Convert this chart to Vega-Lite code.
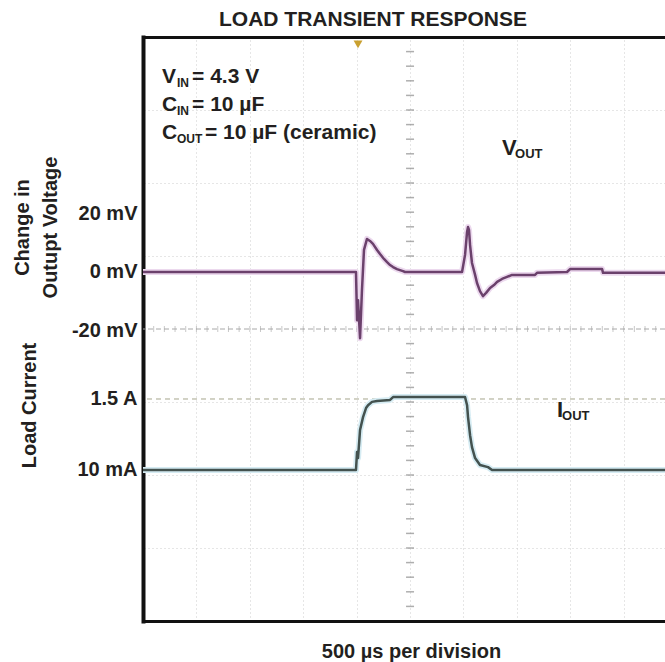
{
  "$schema": "https://vega.github.io/schema/vega-lite/v6.json",
  "width": 522,
  "height": 584,
  "autosize": {"type": "none"},
  "padding": {"left": 143, "top": 37, "right": 0, "bottom": 41},
  "background": "white",
  "config": {"font": "Liberation Sans", "view": {"stroke": null}},
  "title": {"text": "LOAD TRANSIENT RESPONSE", "fontSize": 21, "fontWeight": "bold", "font": "Liberation Sans", "color": "#231f20", "anchor": "middle", "frame": "group", "dx": -31, "offset": -10, "baseline": "alphabetic"},
  "datasets": {
    "vout": [
      {"t": 0, "mV": 0}, {"t": 1994, "mV": 0}, {"t": 2004, "mV": -16.6}, {"t": 2013, "mV": -9.7}, {"t": 2032, "mV": -22.8},
      {"t": 2050, "mV": -6.2}, {"t": 2069, "mV": 7.6}, {"t": 2097, "mV": 11.4}, {"t": 2125, "mV": 10.7}, {"t": 2153, "mV": 9.7},
      {"t": 2191, "mV": 7.6}, {"t": 2219, "mV": 6.2}, {"t": 2256, "mV": 4.5}, {"t": 2285, "mV": 3.4}, {"t": 2313, "mV": 2.4},
      {"t": 2341, "mV": 1.7}, {"t": 2378, "mV": 1.0}, {"t": 2434, "mV": 0.3}, {"t": 2453, "mV": 0}, {"t": 2987, "mV": 0},
      {"t": 3015, "mV": 5.9}, {"t": 3034, "mV": 13.8}, {"t": 3043, "mV": 15.5}, {"t": 3052, "mV": 14.5}, {"t": 3062, "mV": 9.3},
      {"t": 3080, "mV": 3.1}, {"t": 3109, "mV": -1.0}, {"t": 3127, "mV": -3.8}, {"t": 3155, "mV": -6.6}, {"t": 3183, "mV": -8.3},
      {"t": 3212, "mV": -7.2}, {"t": 3249, "mV": -5.5}, {"t": 3286, "mV": -4.5}, {"t": 3315, "mV": -3.4}, {"t": 3361, "mV": -2.4},
      {"t": 3408, "mV": -1.7}, {"t": 3455, "mV": -1.0}, {"t": 3670, "mV": -1.0}, {"t": 3689, "mV": -0.3}, {"t": 3970, "mV": 0},
      {"t": 3998, "mV": 1.0}, {"t": 4298, "mV": 1.0}, {"t": 4307, "mV": -0.3}, {"t": 4887, "mV": -0.3}
    ],
    "iout": [
      {"t": 0, "A": 0.01}, {"t": 1994, "A": 0.01}, {"t": 2004, "A": 0.39}, {"t": 2013, "A": 0.26}, {"t": 2032, "A": 0.85},
      {"t": 2060, "A": 1.12}, {"t": 2088, "A": 1.31}, {"t": 2107, "A": 1.37}, {"t": 2144, "A": 1.44}, {"t": 2191, "A": 1.46},
      {"t": 2313, "A": 1.48}, {"t": 2341, "A": 1.54}, {"t": 3015, "A": 1.54}, {"t": 3034, "A": 1.37}, {"t": 3043, "A": 1.12},
      {"t": 3062, "A": 0.74}, {"t": 3080, "A": 0.49}, {"t": 3109, "A": 0.26}, {"t": 3155, "A": 0.115}, {"t": 3230, "A": 0.07},
      {"t": 3268, "A": 0.01}, {"t": 4887, "A": 0.01}
    ],
    "vticks": [
      {"d": -3.8}, {"d": -3.6}, {"d": -3.4}, {"d": -3.2}, {"d": -3.0}, {"d": -2.8}, {"d": -2.6}, {"d": -2.4}, {"d": -2.2}, {"d": -2.0},
      {"d": -1.8}, {"d": -1.6}, {"d": -1.4}, {"d": -1.2}, {"d": -1.0}, {"d": -0.8}, {"d": -0.6}, {"d": -0.4}, {"d": -0.2},
      {"d": 0.2}, {"d": 0.4}, {"d": 0.6}, {"d": 0.8}, {"d": 1.0}, {"d": 1.2}, {"d": 1.4}, {"d": 1.6}, {"d": 1.8}, {"d": 2.0},
      {"d": 2.2}, {"d": 2.4}, {"d": 2.6}, {"d": 2.8}, {"d": 3.0}, {"d": 3.2}, {"d": 3.4}, {"d": 3.6}, {"d": 3.8}
    ],
    "hticks": [
      {"t": 100}, {"t": 200}, {"t": 300}, {"t": 400}, {"t": 500}, {"t": 600}, {"t": 700}, {"t": 800}, {"t": 900}, {"t": 1000},
      {"t": 1100}, {"t": 1200}, {"t": 1300}, {"t": 1400}, {"t": 1500}, {"t": 1600}, {"t": 1700}, {"t": 1800}, {"t": 1900}, {"t": 2000},
      {"t": 2100}, {"t": 2200}, {"t": 2300}, {"t": 2400}, {"t": 2500}, {"t": 2600}, {"t": 2700}, {"t": 2800}, {"t": 2900}, {"t": 3000},
      {"t": 3100}, {"t": 3200}, {"t": 3300}, {"t": 3400}, {"t": 3500}, {"t": 3600}, {"t": 3700}, {"t": 3800}, {"t": 3900}, {"t": 4000},
      {"t": 4100}, {"t": 4200}, {"t": 4300}, {"t": 4400}, {"t": 4500}, {"t": 4600}, {"t": 4700}, {"t": 4800}
    ]
  },
  "resolve": {"scale": {"y": "independent"}, "axis": {"x": "independent", "y": "independent"}},
  "layer": [
    {
      "data": {"name": "hticks"},
      "mark": {"type": "tick", "orient": "vertical", "color": "#b0b0b0", "size": 6, "thickness": 1},
      "encoding": {
        "x": {"field": "t", "type": "quantitative", "scale": {"domain": [0, 4887], "nice": false, "zero": false},
              "axis": {"orient": "top", "values": [500, 1000, 1500, 2000, 2500, 3000, 3500, 4000, 4500], "grid": true, "gridColor": "#cccccc", "gridDash": [1, 3], "gridWidth": 1, "domain": true, "domainColor": "#111111", "domainWidth": 3, "domainCap": "square", "ticks": false, "labels": false, "title": null}},
        "y": {"datum": 0, "type": "quantitative", "scale": {"domain": [-4, 4], "nice": false, "zero": false},
              "axis": {"orient": "right", "values": [-3, -2, -1, 1, 2, 3], "grid": true, "gridColor": "#cccccc", "gridDash": [1, 3], "gridWidth": 1, "domain": false, "ticks": false, "labels": false, "title": null}}
      }
    },
    {
      "data": {"values": [{}]},
      "mark": {"type": "rule", "color": "#a8a8a8", "strokeDash": [5, 3], "strokeWidth": 1},
      "encoding": {"y": {"datum": 0, "type": "quantitative", "scale": {"domain": [-4, 4], "nice": false, "zero": false}, "axis": null}}
    },
    {
      "data": {"name": "vticks"},
      "mark": {"type": "tick", "orient": "horizontal", "color": "#8c8c8c", "size": 8, "thickness": 1.5},
      "encoding": {
        "x": {"datum": 2500, "type": "quantitative", "axis": null},
        "y": {"field": "d", "type": "quantitative", "scale": {"domain": [-4, 4], "nice": false, "zero": false}, "axis": null}
      }
    },
    {
      "data": {"values": [{}]},
      "mark": {"type": "point", "shape": "triangle-down", "filled": true, "color": "#c9a030", "size": 80, "opacity": 1},
      "encoding": {"x": {"datum": 2013, "type": "quantitative", "axis": null}, "y": {"datum": 3.9, "type": "quantitative", "scale": {"domain": [-4, 4], "nice": false, "zero": false}, "axis": null}}
    },
    {"data": {"values": [{}]}, "mark": {"type": "text", "text": "V", "align": "left", "baseline": "alphabetic", "fontSize": 21, "fontWeight": "bold", "color": "#231f20"},
     "encoding": {"x": {"datum": 178, "type": "quantitative", "axis": null}, "y": {"datum": 3.37, "type": "quantitative", "scale": {"domain": [-4, 4], "nice": false, "zero": false}, "axis": null}}},
    {"data": {"values": [{}]}, "mark": {"type": "text", "text": "IN", "align": "left", "baseline": "alphabetic", "fontSize": 12, "fontWeight": "bold", "color": "#231f20"},
     "encoding": {"x": {"datum": 318, "type": "quantitative", "axis": null}, "y": {"datum": 3.315, "type": "quantitative", "scale": {"domain": [-4, 4], "nice": false, "zero": false}, "axis": null}}},
    {"data": {"values": [{}]}, "mark": {"type": "text", "text": "= 4.3 V", "align": "left", "baseline": "alphabetic", "fontSize": 21, "fontWeight": "bold", "color": "#231f20"},
     "encoding": {"x": {"datum": 459, "type": "quantitative", "axis": null}, "y": {"datum": 3.37, "type": "quantitative", "scale": {"domain": [-4, 4], "nice": false, "zero": false}, "axis": null}}},
    {"data": {"values": [{}]}, "mark": {"type": "text", "text": "C", "align": "left", "baseline": "alphabetic", "fontSize": 21, "fontWeight": "bold", "color": "#231f20"},
     "encoding": {"x": {"datum": 178, "type": "quantitative", "axis": null}, "y": {"datum": 2.986, "type": "quantitative", "scale": {"domain": [-4, 4], "nice": false, "zero": false}, "axis": null}}},
    {"data": {"values": [{}]}, "mark": {"type": "text", "text": "IN", "align": "left", "baseline": "alphabetic", "fontSize": 12, "fontWeight": "bold", "color": "#231f20"},
     "encoding": {"x": {"datum": 318, "type": "quantitative", "axis": null}, "y": {"datum": 2.932, "type": "quantitative", "scale": {"domain": [-4, 4], "nice": false, "zero": false}, "axis": null}}},
    {"data": {"values": [{}]}, "mark": {"type": "text", "text": "= 10 µF", "align": "left", "baseline": "alphabetic", "fontSize": 21, "fontWeight": "bold", "color": "#231f20"},
     "encoding": {"x": {"datum": 459, "type": "quantitative", "axis": null}, "y": {"datum": 2.986, "type": "quantitative", "scale": {"domain": [-4, 4], "nice": false, "zero": false}, "axis": null}}},
    {"data": {"values": [{}]}, "mark": {"type": "text", "text": "C", "align": "left", "baseline": "alphabetic", "fontSize": 21, "fontWeight": "bold", "color": "#231f20"},
     "encoding": {"x": {"datum": 178, "type": "quantitative", "axis": null}, "y": {"datum": 2.603, "type": "quantitative", "scale": {"domain": [-4, 4], "nice": false, "zero": false}, "axis": null}}},
    {"data": {"values": [{}]}, "mark": {"type": "text", "text": "OUT", "align": "left", "baseline": "alphabetic", "fontSize": 12, "fontWeight": "bold", "color": "#231f20"},
     "encoding": {"x": {"datum": 318, "type": "quantitative", "axis": null}, "y": {"datum": 2.548, "type": "quantitative", "scale": {"domain": [-4, 4], "nice": false, "zero": false}, "axis": null}}},
    {"data": {"values": [{}]}, "mark": {"type": "text", "text": "= 10 µF (ceramic)", "align": "left", "baseline": "alphabetic", "fontSize": 21, "fontWeight": "bold", "color": "#231f20"},
     "encoding": {"x": {"datum": 580, "type": "quantitative", "axis": null}, "y": {"datum": 2.603, "type": "quantitative", "scale": {"domain": [-4, 4], "nice": false, "zero": false}, "axis": null}}},
    {"data": {"values": [{}]}, "mark": {"type": "text", "text": "V", "align": "left", "baseline": "alphabetic", "fontSize": 22, "fontWeight": "bold", "color": "#231f20"},
     "encoding": {"x": {"datum": 3361, "type": "quantitative", "axis": null}, "y": {"datum": 2.384, "type": "quantitative", "scale": {"domain": [-4, 4], "nice": false, "zero": false}, "axis": null}}},
    {"data": {"values": [{}]}, "mark": {"type": "text", "text": "OUT", "align": "left", "baseline": "alphabetic", "fontSize": 13, "fontWeight": "bold", "color": "#231f20"},
     "encoding": {"x": {"datum": 3483, "type": "quantitative", "axis": null}, "y": {"datum": 2.342, "type": "quantitative", "scale": {"domain": [-4, 4], "nice": false, "zero": false}, "axis": null}}},
    {"data": {"values": [{}]}, "mark": {"type": "text", "text": "I", "align": "left", "baseline": "alphabetic", "fontSize": 22, "fontWeight": "bold", "color": "#231f20"},
     "encoding": {"x": {"datum": 3876, "type": "quantitative", "axis": null}, "y": {"datum": -1.205, "type": "quantitative", "scale": {"domain": [-4, 4], "nice": false, "zero": false}, "axis": null}}},
    {"data": {"values": [{}]}, "mark": {"type": "text", "text": "OUT", "align": "left", "baseline": "alphabetic", "fontSize": 13, "fontWeight": "bold", "color": "#231f20"},
     "encoding": {"x": {"datum": 3923, "type": "quantitative", "axis": null}, "y": {"datum": -1.247, "type": "quantitative", "scale": {"domain": [-4, 4], "nice": false, "zero": false}, "axis": null}}},
    {
      "data": {"values": [{}]},
      "mark": {"type": "rule", "color": "#a5a58c", "strokeDash": [5, 4], "strokeWidth": 1},
      "encoding": {"y": {"datum": 1.5, "type": "quantitative", "scale": {"domain": [-3.159, 9.097], "nice": false, "zero": false}, "axis": null}}
    },
    {
      "data": {"name": "vout"},
      "encoding": {
        "x": {"field": "t", "type": "quantitative", "scale": {"domain": [0, 4887], "nice": false, "zero": false},
              "axis": {"orient": "bottom", "domain": true, "domainColor": "#111111", "domainWidth": 3, "domainCap": "square", "ticks": false, "labels": false, "grid": false,
                       "title": "500 µs per division", "titleFontSize": 20, "titleFontWeight": "bold", "titleColor": "#231f20", "titleX": 268, "titleY": 36, "titleAlign": "center", "titleBaseline": "alphabetic"}},
        "y": {"field": "mV", "type": "quantitative", "scale": {"domain": [-120.3, 81], "nice": false, "zero": false},
              "axis": {"orient": "left", "values": [20, 0, -20], "labelExpr": "datum.value + ' mV'", "ticks": false, "labelPadding": 6, "labelFontSize": 20, "labelFontWeight": "bold", "labelColor": "#231f20", "labelFlush": false, "labelOverlap": false, "labelBound": false, "grid": false,
                       "domain": true, "domainColor": "#111111", "domainWidth": 4, "domainCap": "square",
                       "title": ["Change in", "Outupt Voltage"], "titleFontSize": 20, "titleFontWeight": "bold", "titleColor": "#231f20", "titleAngle": 270, "titleX": -121, "titleY": 190, "titleAlign": "center", "titleBaseline": "middle", "titleLineHeight": 28}}
      },
      "layer": [
        {"mark": {"type": "line", "color": "#ecd9ee", "strokeWidth": 6, "strokeJoin": "round"}},
        {"mark": {"type": "line", "color": "#6b416c", "strokeWidth": 2.5, "strokeJoin": "round"}}
      ]
    },
    {
      "data": {"name": "iout"},
      "encoding": {
        "x": {"field": "t", "type": "quantitative", "scale": {"domain": [0, 4887], "nice": false, "zero": false}, "axis": null},
        "y": {"field": "A", "type": "quantitative", "scale": {"domain": [-3.159, 9.097], "nice": false, "zero": false},
              "axis": {"orient": "left", "values": [0.01, 1.5], "labelExpr": "datum.value > 1 ? '1.5 A' : '10 mA'", "ticks": false, "labelPadding": 6, "labelFontSize": 20, "labelFontWeight": "bold", "labelColor": "#231f20", "labelFlush": false, "labelOverlap": false, "labelBound": false, "grid": false, "domain": false,
                       "title": "Load Current", "titleFontSize": 20, "titleFontWeight": "bold", "titleColor": "#231f20", "titleAngle": 270, "titleX": -114, "titleY": 368, "titleAlign": "center", "titleBaseline": "middle"}}
      },
      "layer": [
        {"mark": {"type": "line", "color": "#d6ecf3", "strokeWidth": 6, "strokeJoin": "round"}},
        {"mark": {"type": "line", "color": "#44524f", "strokeWidth": 2.5, "strokeJoin": "round"}}
      ]
    }
  ]
}
